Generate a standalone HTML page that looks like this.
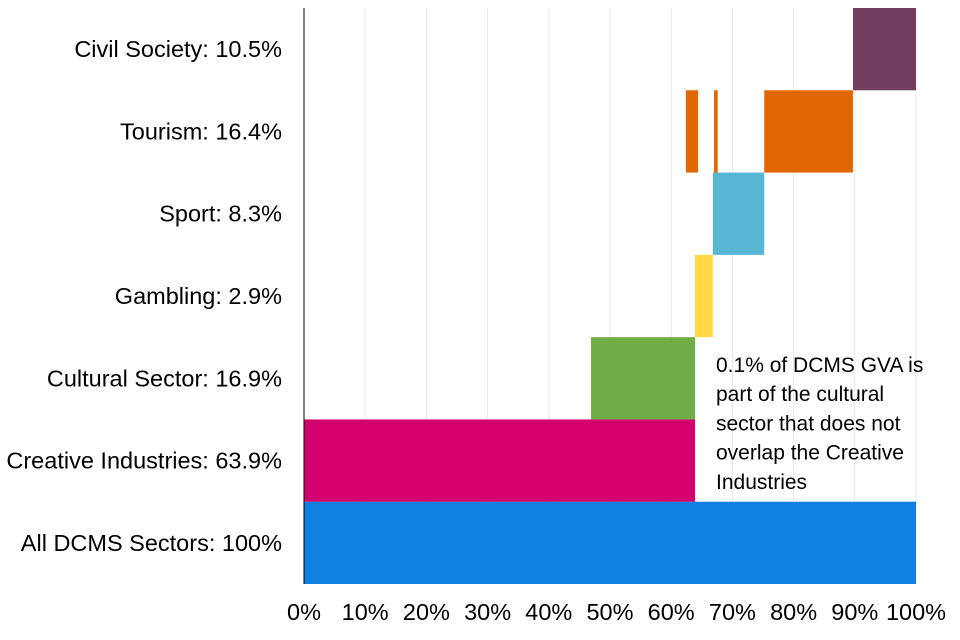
<!DOCTYPE html>
<html><head><meta charset="utf-8"><style>
body{margin:0;background:#fff;}
svg{display:block;font-family:"Liberation Sans",Arial,sans-serif;}
</style></head><body>
<svg id="chart" width="960" height="640"></svg>
<script>
const categories=["All DCMS Sectors: 100%","Creative Industries: 63.9%","Cultural Sector: 16.9%","Gambling: 2.9%","Sport: 8.3%","Tourism: 16.4%","Civil Society: 10.5%"];
const segStarts=[[0],[0],[46.9],[63.9],[66.8],[62.4,67.0,75.2],[89.7]];
const segEnds=[[100],[63.9],[63.9],[66.8],[75.2],[64.4,67.6,89.7],[100]];
const colors=["#0F80DF","#D4006E","#70AD47","#FFD843","#56B6D4","#E06703","#723F5E"];
const ticks=[0,10,20,30,40,50,60,70,80,90,100];
const tickLabels=ticks.map(t=>t+"%");
const NS="http://www.w3.org/2000/svg",svg=document.getElementById('chart');
const x0=304,x1=916,yTop=8,yBot=584,n=categories.length,band=(yBot-yTop)/n;
const xs=v=>x0+(x1-x0)*v/100;
const ys=i=>yBot-(i+1)*band;
function mk(t,a,txt){const e=document.createElementNS(NS,t);for(const k in a)e.setAttribute(k,a[k]);if(txt!=null)e.textContent=txt;svg.appendChild(e);return e;}
ticks.forEach((t,i)=>{
 if(i>0){const g=mk('line',{x1:xs(t),x2:xs(t),y1:yTop,y2:yBot,stroke:'#e8e8e8','stroke-width':1});
 
 }
 const l=mk('text',{x:xs(t),y:620,'text-anchor':'middle','font-size':23.5,fill:'#000'},tickLabels[i]);
 
 
});
categories.forEach((c,i)=>{
 segStarts[i].forEach((s,j)=>{
  const r=mk('rect',{x:xs(s),y:ys(i),width:xs(segEnds[i][j])-xs(s),height:band,fill:colors[i]});
  
  
 });
 const l=mk('text',{x:282,y:ys(i)+band/2+8,'text-anchor':'end','font-size':23.5,fill:'#000'},c);
 
 
});
const ax=mk('line',{x1:x0,x2:x0,y1:yTop,y2:yBot,stroke:'#000','stroke-width':1});


const note=["0.1% of DCMS GVA is","part of the cultural","sector that does not","overlap the Creative","Industries"];
note.forEach((s,i)=>{
 const t=mk('text',{x:716,y:372+i*29.2,'font-size':21,fill:'#000'},s);
 
 
});
</script>
</body></html>
